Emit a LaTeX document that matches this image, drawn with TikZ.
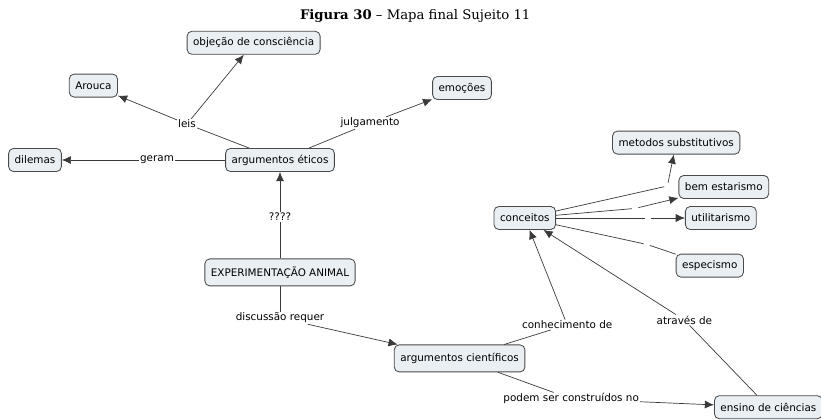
\documentclass[tikz,border=0pt]{standalone}
\usepackage{fontspec}
\setmainfont{DejaVu Sans}
\newfontfamily\titlefont{DejaVu Serif}
\usetikzlibrary{arrows.meta}
\definecolor{boxfill}{HTML}{E9EFF3}
\definecolor{boxline}{HTML}{4A4A4A}
\definecolor{linkcol}{HTML}{3A3A3A}
\tikzset{>={Latex[length=2.3mm,width=2mm]}}
\tikzstyle{concept} = [rectangle, rounded corners=1.2mm, minimum height=0.575cm, inner xsep=1.5mm, text centered, draw=boxline, fill=boxfill, line width=0.6pt, font=\fontsize{7.4}{9}\selectfont]
\tikzstyle{link} = [inner sep=0.6pt, font=\fontsize{7.4}{9}\selectfont]
\tikzstyle{junction} = [circle, inner sep=0pt, minimum size=1.5mm]
\tikzstyle{connector} = [draw=linkcol, line width=0.5pt]
\tikzstyle{arrow} = [connector, ->]

\begin{document}
\begin{tikzpicture}

\useasboundingbox (-7,4) rectangle (13.525,-6.475);

\node (etic) [concept] {argumentos éticos};

\node (exp) [concept, below of = etic, yshift=-1.81cm, minimum height=0.675cm] {EXPERIMENTAÇÃO ANIMAL};

\node (dilemas) [concept, left of = etic, xshift=-5.125cm] {dilemas};
\node (arouca) [concept, above of = dilemas, xshift=1.46cm, yshift=0.86cm] {Arouca};
\node (obj) [concept, above of = etic, xshift=-0.66cm, yshift=1.93cm] {objeção de consciência};
\node (emocoes) [concept, right of = etic, xshift=3.55cm, yshift=1.8cm] {emoções};

\node (cient) [concept, right of = exp, xshift=3.49cm, yshift=-2.15cm, minimum height=0.675cm] {argumentos científicos};
\node (conceitos) [concept, above of = cient, xshift=1.63cm, yshift=2.51cm] {conceitos};
\node (ensino) [concept, right of = cient, xshift=6.72cm, yshift=-1.22cm] {ensino de ciências};

\node (util) [concept, right of = conceitos, xshift=3.9cm] {utilitarismo};
\node (bem) [concept, above of = util, xshift=0.075cm, yshift=-0.225cm] {bem estarismo};
\node (metodos) [concept, above of = bem, xshift=-1.19cm, yshift=0.11cm] {metodos substitutivos};
\node (especismo) [concept, below of = util, xshift=-0.275cm, yshift=-0.19cm] {especismo};

% linking phrases
\node (leis) [link, left of = etic, xshift=-1.325cm, yshift=0.9cm] {leis};
\node (julg) [link, right of = etic, xshift=1.25cm, yshift=0.925cm] {julgamento};
\node (geram) [link, left of = etic, xshift=-2.075cm] {geram};
\node (quest) [link, below of = etic, yshift=-0.425cm] {????};
\node (disc) [link, below of = exp, yshift=-0.14cm] {discussão requer};
\node (conh) [link, right of = cient, xshift=1.69cm, yshift=0.84cm] {conhecimento de};
\node (atraves) [link, above of = ensino, xshift=-2.1cm, yshift=1.18cm] {através de};
\node (podem) [link, right of = cient, xshift=1.79cm, yshift=-1.01cm] {podem ser construídos no};

\node (jmet) [junction, left of = bem, xshift=-0.41cm, yshift=0.025cm] {};
\node (jbem) [junction, left of = util, xshift=-1.14cm, yshift=0.24cm] {};
\node (jutil) [junction, left of = util, xshift=-0.825cm] {};
\node (jesp) [junction, left of = util, xshift=-0.85cm, yshift=-0.66cm] {};

\node (title) [above of = obj, xshift=4.04cm, yshift=-0.33cm] {\titlefont\fontsize{9.4}{11}\selectfont\textbf{Figura 30} – Mapa final Sujeito 11};

\draw [connector] (etic)--(leis);
\draw [arrow] (leis)--(arouca);
\draw [arrow] (leis)--(obj);
\draw [connector] (etic)--(julg);
\draw [arrow] (julg)--(emocoes);
\draw [connector] (etic)--(geram);
\draw [arrow] (geram)--(dilemas);
\draw [connector] (exp)--(quest);
\draw [arrow] (quest)--(etic);
\draw [connector] (exp)--(disc);
\draw [arrow] (disc)--(cient);
\draw [connector] (cient)--(conh);
\draw [arrow] (conh)--(conceitos);
\draw [connector] (ensino)--(atraves);
\draw [arrow] (atraves)--(conceitos);
\draw [connector] (cient)--(podem);
\draw [arrow] (podem)--(ensino);
\draw [connector] (conceitos)--(jmet);
\draw [arrow] (jmet)--(metodos);
\draw [connector] (conceitos)--(jbem);
\draw [arrow] (jbem)--(bem);
\draw [connector] (conceitos)--(jutil);
\draw [arrow] (jutil)--(util);
\draw [connector] (conceitos)--(jesp);
\draw [connector] (jesp)--(especismo);

\end{tikzpicture}
\end{document}
